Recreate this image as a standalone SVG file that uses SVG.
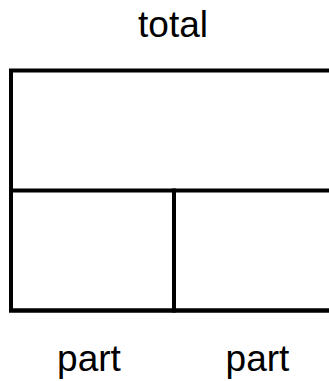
<svg xmlns="http://www.w3.org/2000/svg" width="329" height="381" viewBox="0 0 329 381">
<style>
.l{stroke:#000;stroke-width:4;fill:none}
.t{font-family:"Liberation Sans",Arial,sans-serif;font-size:37px;fill:#000;text-anchor:middle}
</style>
<rect width="329" height="381" fill="#fff"/>
<g id="whole"><rect class="l" x="11" y="70.5" width="330" height="240"/></g>
<g id="part1"><rect class="l" x="11" y="190.5" width="163" height="120"/></g>
<g id="part2"><rect class="l" x="174" y="190.5" width="167" height="120"/></g>
<g id="connectors"></g>
<g id="labels">
<text class="t" x="173" y="37">total</text>
<text class="t" x="89" y="371">part</text>
<text class="t" x="257.5" y="371">part</text>
</g>
</svg>
